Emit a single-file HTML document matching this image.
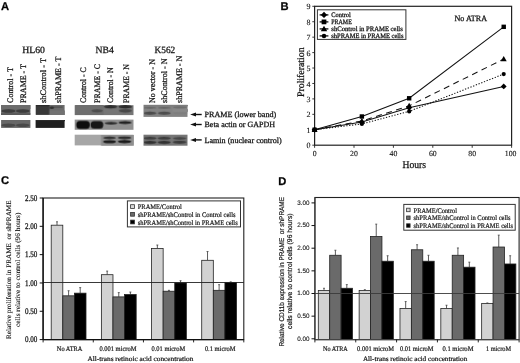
<!DOCTYPE html>
<html><head><meta charset="utf-8"><style>
html,body{margin:0;padding:0;background:#fff;width:520px;height:363px;overflow:hidden;font-family:"Liberation Serif",serif;}
svg{display:block;will-change:transform;filter:blur(0.3px)}
text{stroke:#1a1a1a;stroke-width:0.28px;text-rendering:geometricPrecision;white-space:pre}
text.s{stroke-width:0.12px}
text.m{stroke-width:0.2px}
</style></head><body>
<svg width="520" height="363" viewBox="0 0 520 363">
<rect width="520" height="363" fill="#fff"/>
<text x="0.90" y="9.50" font-size="11.2" font-family='"Liberation Sans", sans-serif' fill="#000" font-weight="bold" >A</text>
<text x="280.40" y="9.80" font-size="11.2" font-family='"Liberation Sans", sans-serif' fill="#000" font-weight="bold" >B</text>
<text x="1.00" y="183.60" font-size="11.2" font-family='"Liberation Sans", sans-serif' fill="#000" font-weight="bold" >C</text>
<text x="278.20" y="184.60" font-size="11.2" font-family='"Liberation Sans", sans-serif' fill="#000" font-weight="bold" >D</text>
<text x="22.30" y="52.90" font-size="9.6" font-family='"Liberation Serif", serif' fill="#111" textLength="22.60" lengthAdjust="spacingAndGlyphs" >HL60</text>
<text x="95.60" y="52.90" font-size="9.6" font-family='"Liberation Serif", serif' fill="#111" textLength="18.20" lengthAdjust="spacingAndGlyphs" >NB4</text>
<text x="154.50" y="52.90" font-size="9.6" font-family='"Liberation Serif", serif' fill="#111" textLength="20.70" lengthAdjust="spacingAndGlyphs" >K562</text>
<text x="12.60" y="102.90" font-size="8.4" font-family='"Liberation Serif", serif' fill="#111" textLength="35.70" lengthAdjust="spacingAndGlyphs" transform="rotate(-90 12.60 102.90)" >Control - T</text>
<text x="26.40" y="102.90" font-size="8.4" font-family='"Liberation Serif", serif' fill="#111" textLength="38.90" lengthAdjust="spacingAndGlyphs" transform="rotate(-90 26.40 102.90)" >PRAME - T</text>
<text x="45.60" y="102.90" font-size="8.4" font-family='"Liberation Serif", serif' fill="#111" textLength="44.90" lengthAdjust="spacingAndGlyphs" transform="rotate(-90 45.60 102.90)" >shControl - T</text>
<text x="61.00" y="102.90" font-size="8.4" font-family='"Liberation Serif", serif' fill="#111" textLength="46.40" lengthAdjust="spacingAndGlyphs" transform="rotate(-90 61.00 102.90)" >shPRAME - T</text>
<text x="85.90" y="102.90" font-size="8.4" font-family='"Liberation Serif", serif' fill="#111" textLength="35.60" lengthAdjust="spacingAndGlyphs" transform="rotate(-90 85.90 102.90)" >Control - C</text>
<text x="99.80" y="102.90" font-size="8.4" font-family='"Liberation Serif", serif' fill="#111" textLength="38.90" lengthAdjust="spacingAndGlyphs" transform="rotate(-90 99.80 102.90)" >PRAME - C</text>
<text x="113.50" y="102.90" font-size="8.4" font-family='"Liberation Serif", serif' fill="#111" textLength="35.60" lengthAdjust="spacingAndGlyphs" transform="rotate(-90 113.50 102.90)" >Control - N</text>
<text x="128.60" y="102.90" font-size="8.4" font-family='"Liberation Serif", serif' fill="#111" textLength="38.90" lengthAdjust="spacingAndGlyphs" transform="rotate(-90 128.60 102.90)" >PRAME - N</text>
<text x="154.60" y="102.90" font-size="8.4" font-family='"Liberation Serif", serif' fill="#111" textLength="43.90" lengthAdjust="spacingAndGlyphs" transform="rotate(-90 154.60 102.90)" >No vector - N</text>
<text x="167.40" y="102.90" font-size="8.4" font-family='"Liberation Serif", serif' fill="#111" textLength="44.40" lengthAdjust="spacingAndGlyphs" transform="rotate(-90 167.40 102.90)" >shControl - N</text>
<text x="182.20" y="102.90" font-size="8.4" font-family='"Liberation Serif", serif' fill="#111" textLength="47.20" lengthAdjust="spacingAndGlyphs" transform="rotate(-90 182.20 102.90)" >shPRAME - N</text>
<defs><filter id="bl" x="-20%" y="-50%" width="140%" height="200%"><feGaussianBlur stdDeviation="0.75"/></filter><filter id="bl2" x="-20%" y="-50%" width="140%" height="200%"><feGaussianBlur stdDeviation="1.0"/></filter><clipPath id="c1"><rect x="1" y="104.8" width="29.5" height="9.9"/></clipPath></defs>
<rect x="1.1" y="105.0" width="29.3" height="9.6" fill="#666666"/>
<svg x="1.1" y="105.0" width="29.3" height="9.6" overflow="hidden"><g transform="translate(-1.1 -105.0)" filter="url(#bl)">
<rect x="1.1" y="105" width="29.3" height="4.0" fill="#6c6c6c"/>
<ellipse cx="8.5" cy="111.0" rx="7.0" ry="1.8" fill="#3c3c3c"/>
<ellipse cx="22.8" cy="111.0" rx="6.8" ry="1.8" fill="#3e3e3e"/>
<rect x="1.1" y="113.2" width="29.3" height="2" fill="#5a5a5a"/>
</g></svg>
<rect x="1.1" y="120.0" width="29.3" height="7.9" fill="#676767"/>
<svg x="1.1" y="120.0" width="29.3" height="7.9" overflow="hidden"><g transform="translate(-1.1 -120.0)" filter="url(#bl)">
<ellipse cx="8.5" cy="125.3" rx="7.0" ry="1.7" fill="#4a4a4a"/>
<ellipse cx="22.8" cy="125.3" rx="6.8" ry="1.7" fill="#4a4a4a"/>
</g></svg>
<rect x="35.6" y="105.0" width="29.0" height="9.8" fill="#6c6c6c"/>
<svg x="35.6" y="105.0" width="29.0" height="9.8" overflow="hidden"><g transform="translate(-35.6 -105.0)" filter="url(#bl)">
<rect x="35.6" y="105" width="13.8" height="9.8" fill="#383838"/>
<rect x="35.6" y="105" width="13.8" height="1.2" fill="#2c2c2c"/>
<rect x="50" y="106.3" width="12.5" height="1.8" fill="#585858"/>
<ellipse cx="51.8" cy="107.8" rx="2.2" ry="1.3" fill="#333333"/>
<rect x="49.4" y="110.5" width="15" height="4.5" fill="#727272"/>
</g></svg>
<rect x="35.6" y="120.0" width="29.0" height="7.9" fill="#1f1f1f"/>
<svg x="35.6" y="120.0" width="29.0" height="7.9" overflow="hidden"><g transform="translate(-35.6 -120.0)" filter="url(#bl)">
<rect x="35.6" y="120" width="29" height="1.2" fill="#2c2c2c"/>
</g></svg>
<rect x="74.7" y="105.2" width="58.8" height="9.9" fill="#767676"/>
<svg x="74.7" y="105.2" width="58.8" height="9.9" overflow="hidden"><g transform="translate(-74.7 -105.2)" filter="url(#bl)">
<rect x="75" y="105.2" width="28.5" height="9.9" fill="#6e6e6e"/>
<ellipse cx="97" cy="110.8" rx="5.8" ry="1.6" fill="#4e4e4e"/>
<ellipse cx="110.5" cy="106.8" rx="6.8" ry="1.6" fill="#2e2e2e"/>
<ellipse cx="125.3" cy="106.8" rx="6.8" ry="1.7" fill="#2a2a2a"/>
<ellipse cx="125.3" cy="110.8" rx="6.5" ry="1.8" fill="#484848"/>
</g></svg>
<rect x="74.7" y="119.6" width="58.8" height="10.2" fill="#909090"/>
<svg x="74.7" y="119.6" width="58.8" height="10.2" overflow="hidden"><g transform="translate(-74.7 -119.6)" filter="url(#bl)">
<rect x="76.3" y="120.9" width="13.4" height="8.0" rx="3.5" fill="#111111"/>
<rect x="90.6" y="121.1" width="12.6" height="7.5" rx="3.5" fill="#141414"/>
<ellipse cx="111" cy="123.2" rx="6.5" ry="1.3" fill="#2a2a2a"/>
<ellipse cx="125" cy="122.6" rx="6.6" ry="1.5" fill="#222222"/>
</g></svg>
<rect x="74.7" y="134.7" width="58.8" height="10.7" fill="#a6a6a6"/>
<svg x="74.7" y="134.7" width="58.8" height="10.7" overflow="hidden"><g transform="translate(-74.7 -134.7)" filter="url(#bl)">
<rect x="101" y="134.7" width="32.5" height="10.7" fill="#8e8e8e"/>
<ellipse cx="109.5" cy="137.8" rx="6.5" ry="1.3" fill="#333333"/>
<ellipse cx="109.5" cy="141.7" rx="6.5" ry="1.6" fill="#1e1e1e"/>
<ellipse cx="124.5" cy="137.8" rx="6.8" ry="1.4" fill="#2e2e2e"/>
<ellipse cx="124.5" cy="141.5" rx="6.8" ry="1.6" fill="#1a1a1a"/>
</g></svg>
<rect x="143.5" y="104.8" width="44.0" height="12.1" fill="#838383"/>
<svg x="143.5" y="104.8" width="44.0" height="12.1" overflow="hidden"><g transform="translate(-143.5 -104.8)" filter="url(#bl)">
<rect x="143.5" y="104.8" width="44" height="1.4" fill="#7c7c7c"/>
<ellipse cx="150" cy="107.7" rx="6.4" ry="1.0" fill="#666666"/>
<ellipse cx="164.3" cy="107.7" rx="6.4" ry="1.0" fill="#666666"/>
<ellipse cx="180" cy="107.3" rx="6.8" ry="1.0" fill="#6c6c6c"/>
<ellipse cx="150" cy="113.2" rx="6.4" ry="1.6" fill="#4c4c4c"/>
<ellipse cx="164.3" cy="113.2" rx="6.4" ry="1.6" fill="#4e4e4e"/>
<ellipse cx="180" cy="113.0" rx="6.8" ry="1.3" fill="#7e7e7e"/>
<rect x="172.3" y="109" width="15.2" height="3" fill="#888888"/>
</g></svg>
<rect x="143.5" y="134.7" width="44.0" height="11.0" fill="#767676"/>
<svg x="143.5" y="134.7" width="44.0" height="11.0" overflow="hidden"><g transform="translate(-143.5 -134.7)" filter="url(#bl)">
<ellipse cx="150" cy="138.1" rx="6.6" ry="1.4" fill="#3c3c3c"/>
<ellipse cx="164.2" cy="138.1" rx="6.6" ry="1.4" fill="#3a3a3a"/>
<ellipse cx="179.6" cy="138.3" rx="6.8" ry="1.3" fill="#444444"/>
<ellipse cx="150" cy="142.3" rx="6.6" ry="1.6" fill="#333333"/>
<ellipse cx="164.2" cy="142.3" rx="6.6" ry="1.6" fill="#333333"/>
<ellipse cx="179.6" cy="142.1" rx="6.8" ry="1.5" fill="#3a3a3a"/>
</g></svg>
<path d="M190.2 114.5 L196.0 112.5 L196.0 116.5 Z" fill="#111"/>
<line x1="195" y1="114.5" x2="201.7" y2="114.5" stroke="#111" stroke-width="1.4"/>
<text x="204.50" y="116.80" font-size="8" font-family='"Liberation Serif", serif' fill="#111" textLength="71.80" lengthAdjust="spacingAndGlyphs" >PRAME (lower band)</text>
<path d="M190.2 124.5 L196.0 122.5 L196.0 126.5 Z" fill="#111"/>
<line x1="195" y1="124.5" x2="201.7" y2="124.5" stroke="#111" stroke-width="1.4"/>
<text x="204.50" y="127.20" font-size="8" font-family='"Liberation Serif", serif' fill="#111" textLength="70.50" lengthAdjust="spacingAndGlyphs" >Beta actin or GAPDH</text>
<path d="M190.2 139.9 L196.0 137.9 L196.0 141.9 Z" fill="#111"/>
<line x1="195" y1="139.9" x2="201.7" y2="139.9" stroke="#111" stroke-width="1.4"/>
<text x="204.50" y="142.60" font-size="8" font-family='"Liberation Serif", serif' fill="#111" textLength="77.30" lengthAdjust="spacingAndGlyphs" >Lamin (nuclear control)</text>
<rect x="314.6" y="6.3" width="197.0" height="138.89999999999998" fill="none" stroke="#222" stroke-width="1.2"/>
<line x1="312.3" y1="145.20" x2="314.6" y2="145.20" stroke="#222" stroke-width="0.9"/>
<text x="310.40" y="148.30" font-size="8" font-family='"Liberation Serif", serif' fill="#111" text-anchor="end" class="s" >0</text>
<line x1="312.3" y1="129.77" x2="314.6" y2="129.77" stroke="#222" stroke-width="0.9"/>
<text x="310.40" y="132.87" font-size="8" font-family='"Liberation Serif", serif' fill="#111" text-anchor="end" class="s" >1</text>
<line x1="312.3" y1="114.33" x2="314.6" y2="114.33" stroke="#222" stroke-width="0.9"/>
<text x="310.40" y="117.43" font-size="8" font-family='"Liberation Serif", serif' fill="#111" text-anchor="end" class="s" >2</text>
<line x1="312.3" y1="98.90" x2="314.6" y2="98.90" stroke="#222" stroke-width="0.9"/>
<text x="310.40" y="102.00" font-size="8" font-family='"Liberation Serif", serif' fill="#111" text-anchor="end" class="s" >3</text>
<line x1="312.3" y1="83.47" x2="314.6" y2="83.47" stroke="#222" stroke-width="0.9"/>
<text x="310.40" y="86.57" font-size="8" font-family='"Liberation Serif", serif' fill="#111" text-anchor="end" class="s" >4</text>
<line x1="312.3" y1="68.03" x2="314.6" y2="68.03" stroke="#222" stroke-width="0.9"/>
<text x="310.40" y="71.13" font-size="8" font-family='"Liberation Serif", serif' fill="#111" text-anchor="end" class="s" >5</text>
<line x1="312.3" y1="52.60" x2="314.6" y2="52.60" stroke="#222" stroke-width="0.9"/>
<text x="310.40" y="55.70" font-size="8" font-family='"Liberation Serif", serif' fill="#111" text-anchor="end" class="s" >6</text>
<line x1="312.3" y1="37.17" x2="314.6" y2="37.17" stroke="#222" stroke-width="0.9"/>
<text x="310.40" y="40.27" font-size="8" font-family='"Liberation Serif", serif' fill="#111" text-anchor="end" class="s" >7</text>
<line x1="312.3" y1="21.73" x2="314.6" y2="21.73" stroke="#222" stroke-width="0.9"/>
<text x="310.40" y="24.83" font-size="8" font-family='"Liberation Serif", serif' fill="#111" text-anchor="end" class="s" >8</text>
<line x1="312.3" y1="6.30" x2="314.6" y2="6.30" stroke="#222" stroke-width="0.9"/>
<text x="310.40" y="9.40" font-size="8" font-family='"Liberation Serif", serif' fill="#111" text-anchor="end" class="s" >9</text>
<line x1="314.60" y1="145.2" x2="314.60" y2="147.8" stroke="#222" stroke-width="0.9"/>
<text x="314.60" y="156.20" font-size="7.8" font-family='"Liberation Serif", serif' fill="#111" text-anchor="middle" class="s" >0</text>
<line x1="354.00" y1="145.2" x2="354.00" y2="147.8" stroke="#222" stroke-width="0.9"/>
<text x="354.00" y="156.20" font-size="7.8" font-family='"Liberation Serif", serif' fill="#111" text-anchor="middle" class="s" >20</text>
<line x1="393.40" y1="145.2" x2="393.40" y2="147.8" stroke="#222" stroke-width="0.9"/>
<text x="393.40" y="156.20" font-size="7.8" font-family='"Liberation Serif", serif' fill="#111" text-anchor="middle" class="s" >40</text>
<line x1="432.80" y1="145.2" x2="432.80" y2="147.8" stroke="#222" stroke-width="0.9"/>
<text x="432.80" y="156.20" font-size="7.8" font-family='"Liberation Serif", serif' fill="#111" text-anchor="middle" class="s" >60</text>
<line x1="472.20" y1="145.2" x2="472.20" y2="147.8" stroke="#222" stroke-width="0.9"/>
<text x="472.20" y="156.20" font-size="7.8" font-family='"Liberation Serif", serif' fill="#111" text-anchor="middle" class="s" >80</text>
<line x1="511.60" y1="145.2" x2="511.60" y2="147.8" stroke="#222" stroke-width="0.9"/>
<text x="510.60" y="156.20" font-size="7.8" font-family='"Liberation Serif", serif' fill="#111" text-anchor="middle" class="s" >100</text>
<text x="303.50" y="97.00" font-size="10" font-family='"Liberation Serif", serif' fill="#111" textLength="49.60" lengthAdjust="spacingAndGlyphs" transform="rotate(-90 303.50 97.00)" >Proliferation</text>
<text x="402.50" y="168.00" font-size="10.5" font-family='"Liberation Serif", serif' fill="#111" textLength="23.50" lengthAdjust="spacingAndGlyphs" >Hours</text>
<text x="454.50" y="20.60" font-size="8.2" font-family='"Liberation Serif", serif' fill="#111" textLength="32.50" lengthAdjust="spacingAndGlyphs" >No ATRA</text>
<polyline points="314.60,129.77 361.88,122.05 409.16,107.85 503.72,86.40" fill="none" stroke="#111" stroke-width="1.05"/>
<polyline points="314.60,129.77 361.88,116.49 409.16,98.28 503.72,26.83" fill="none" stroke="#111" stroke-width="1.05"/>
<polyline points="314.60,129.77 361.88,120.97 409.16,105.84 503.72,59.08" fill="none" stroke="#111" stroke-width="1.05" stroke-dasharray="6,4.5"/>
<polyline points="314.60,129.77 361.88,123.90 409.16,111.40 503.72,74.05" fill="none" stroke="#111" stroke-width="1.05" stroke-dasharray="1.3,1.6"/>
<path d="M314.60 126.87 L317.50 129.77 L314.60 132.67 L311.70 129.77 Z" fill="#000"/>
<path d="M361.88 119.15 L364.78 122.05 L361.88 124.95 L358.98 122.05 Z" fill="#000"/>
<path d="M409.16 104.95 L412.06 107.85 L409.16 110.75 L406.26 107.85 Z" fill="#000"/>
<path d="M503.72 83.50 L506.62 86.40 L503.72 89.30 L500.82 86.40 Z" fill="#000"/>
<rect x="312.40" y="127.57" width="4.40" height="4.40" fill="#000"/>
<rect x="359.68" y="114.29" width="4.40" height="4.40" fill="#000"/>
<rect x="406.96" y="96.08" width="4.40" height="4.40" fill="#000"/>
<rect x="501.52" y="24.63" width="4.40" height="4.40" fill="#000"/>
<path d="M314.60 126.77 L317.60 132.02 L311.60 132.02 Z" fill="#000"/>
<path d="M361.88 117.97 L364.88 123.22 L358.88 123.22 Z" fill="#000"/>
<path d="M409.16 102.84 L412.16 108.09 L406.16 108.09 Z" fill="#000"/>
<path d="M503.72 56.08 L506.72 61.33 L500.72 61.33 Z" fill="#000"/>
<circle cx="314.60" cy="129.77" r="2.10" fill="#000"/>
<circle cx="361.88" cy="123.90" r="2.10" fill="#000"/>
<circle cx="409.16" cy="111.40" r="2.10" fill="#000"/>
<circle cx="503.72" cy="74.05" r="2.10" fill="#000"/>
<rect x="317.4" y="9.8" width="88.5" height="29.6" fill="#fff" stroke="#333" stroke-width="1"/>
<line x1="319.6" y1="14.90" x2="328.4" y2="14.90" stroke="#111" stroke-width="1.3"/>
<path d="M324.00 11.77 L327.13 14.90 L324.00 18.03 L320.87 14.90 Z" fill="#000"/>
<text x="331.30" y="17.00" font-size="6.8" font-family='"Liberation Serif", serif' fill="#111" textLength="19.50" lengthAdjust="spacingAndGlyphs" >Control</text>
<line x1="319.6" y1="21.90" x2="328.4" y2="21.90" stroke="#111" stroke-width="1.3"/>
<rect x="321.62" y="19.52" width="4.75" height="4.75" fill="#000"/>
<text x="331.30" y="24.00" font-size="6.8" font-family='"Liberation Serif", serif' fill="#111" textLength="20.50" lengthAdjust="spacingAndGlyphs" >PRAME</text>
<line x1="319.6" y1="28.90" x2="328.4" y2="28.90" stroke="#111" stroke-width="1.3"/>
<path d="M324.00 25.66 L327.24 31.33 L320.76 31.33 Z" fill="#000"/>
<text x="331.30" y="31.00" font-size="6.8" font-family='"Liberation Serif", serif' fill="#111" textLength="71.50" lengthAdjust="spacingAndGlyphs" >shControl in PRAME cells</text>
<line x1="319.6" y1="35.90" x2="328.4" y2="35.90" stroke="#111" stroke-width="1.3"/>
<circle cx="324.00" cy="35.90" r="2.27" fill="#000"/>
<text x="331.30" y="38.00" font-size="6.8" font-family='"Liberation Serif", serif' fill="#111" textLength="72.10" lengthAdjust="spacingAndGlyphs" >shPRAME in PRAME cells</text>
<rect x="43.1" y="198.0" width="200.70000000000002" height="141.60000000000002" fill="#fff" stroke="#222" stroke-width="1.1"/>
<line x1="57.00" y1="221.79" x2="57.00" y2="225.19" stroke="#333" stroke-width="0.8"/>
<line x1="56.00" y1="221.79" x2="58.00" y2="221.79" stroke="#333" stroke-width="0.7"/>
<rect x="51.20" y="225.19" width="11.60" height="114.41" fill="#d2d2d2" stroke="#222" stroke-width="0.8"/>
<line x1="68.60" y1="290.72" x2="68.60" y2="295.82" stroke="#333" stroke-width="0.8"/>
<line x1="67.60" y1="290.72" x2="69.60" y2="290.72" stroke="#333" stroke-width="0.7"/>
<rect x="62.80" y="295.82" width="11.60" height="43.78" fill="#6a6a6a" stroke="#222" stroke-width="0.8"/>
<line x1="80.20" y1="287.60" x2="80.20" y2="293.16" stroke="#333" stroke-width="0.8"/>
<line x1="79.20" y1="287.60" x2="81.20" y2="287.60" stroke="#333" stroke-width="0.7"/>
<rect x="74.40" y="293.16" width="11.60" height="46.44" fill="#000000" stroke="#222" stroke-width="0.8"/>
<line x1="107.17" y1="271.07" x2="107.17" y2="274.69" stroke="#333" stroke-width="0.8"/>
<line x1="106.17" y1="271.07" x2="108.17" y2="271.07" stroke="#333" stroke-width="0.7"/>
<rect x="101.38" y="274.69" width="11.60" height="64.91" fill="#d2d2d2" stroke="#222" stroke-width="0.8"/>
<line x1="118.77" y1="292.59" x2="118.77" y2="296.89" stroke="#333" stroke-width="0.8"/>
<line x1="117.77" y1="292.59" x2="119.77" y2="292.59" stroke="#333" stroke-width="0.7"/>
<rect x="112.97" y="296.89" width="11.60" height="42.71" fill="#6a6a6a" stroke="#222" stroke-width="0.8"/>
<line x1="130.38" y1="292.02" x2="130.38" y2="294.57" stroke="#333" stroke-width="0.8"/>
<line x1="129.38" y1="292.02" x2="131.38" y2="292.02" stroke="#333" stroke-width="0.7"/>
<rect x="124.58" y="294.57" width="11.60" height="45.03" fill="#000000" stroke="#222" stroke-width="0.8"/>
<line x1="157.35" y1="245.01" x2="157.35" y2="248.41" stroke="#333" stroke-width="0.8"/>
<line x1="156.35" y1="245.01" x2="158.35" y2="245.01" stroke="#333" stroke-width="0.7"/>
<rect x="151.55" y="248.41" width="11.60" height="91.19" fill="#d2d2d2" stroke="#222" stroke-width="0.8"/>
<line x1="168.95" y1="290.32" x2="168.95" y2="291.23" stroke="#333" stroke-width="0.8"/>
<line x1="167.95" y1="290.32" x2="169.95" y2="290.32" stroke="#333" stroke-width="0.7"/>
<rect x="163.15" y="291.23" width="11.60" height="48.37" fill="#6a6a6a" stroke="#222" stroke-width="0.8"/>
<line x1="180.55" y1="280.69" x2="180.55" y2="282.96" stroke="#333" stroke-width="0.8"/>
<line x1="179.55" y1="280.69" x2="181.55" y2="280.69" stroke="#333" stroke-width="0.7"/>
<rect x="174.75" y="282.96" width="11.60" height="56.64" fill="#000000" stroke="#222" stroke-width="0.8"/>
<line x1="207.53" y1="251.52" x2="207.53" y2="260.30" stroke="#333" stroke-width="0.8"/>
<line x1="206.53" y1="251.52" x2="208.53" y2="251.52" stroke="#333" stroke-width="0.7"/>
<rect x="201.72" y="260.30" width="11.60" height="79.30" fill="#d2d2d2" stroke="#222" stroke-width="0.8"/>
<line x1="219.12" y1="284.66" x2="219.12" y2="290.32" stroke="#333" stroke-width="0.8"/>
<line x1="218.12" y1="284.66" x2="220.12" y2="284.66" stroke="#333" stroke-width="0.7"/>
<rect x="213.32" y="290.32" width="11.60" height="49.28" fill="#6a6a6a" stroke="#222" stroke-width="0.8"/>
<line x1="230.72" y1="281.83" x2="230.72" y2="282.39" stroke="#333" stroke-width="0.8"/>
<line x1="229.72" y1="281.83" x2="231.72" y2="281.83" stroke="#333" stroke-width="0.7"/>
<rect x="224.92" y="282.39" width="11.60" height="57.21" fill="#000000" stroke="#222" stroke-width="0.8"/>
<line x1="43.1" y1="282.50" x2="243.8" y2="282.50" stroke="#222" stroke-width="0.9"/>
<line x1="43.1" y1="198.0" x2="43.1" y2="339.6" stroke="#111" stroke-width="1.3"/>
<line x1="43.1" y1="339.6" x2="243.8" y2="339.6" stroke="#111" stroke-width="1.3"/>
<line x1="43.10" y1="339.6" x2="43.10" y2="342.40" stroke="#111" stroke-width="0.9"/>
<line x1="93.28" y1="339.6" x2="93.28" y2="342.40" stroke="#111" stroke-width="0.9"/>
<line x1="143.45" y1="339.6" x2="143.45" y2="342.40" stroke="#111" stroke-width="0.9"/>
<line x1="193.62" y1="339.6" x2="193.62" y2="342.40" stroke="#111" stroke-width="0.9"/>
<line x1="243.80" y1="339.6" x2="243.80" y2="342.40" stroke="#111" stroke-width="0.9"/>
<line x1="39.70" y1="339.60" x2="43.1" y2="339.60" stroke="#111" stroke-width="1"/>
<text x="24.90" y="342.45" font-size="8.6" font-family='"Liberation Serif", serif' fill="#111" textLength="12.40" lengthAdjust="spacingAndGlyphs" >0.00</text>
<line x1="39.70" y1="311.28" x2="43.1" y2="311.28" stroke="#111" stroke-width="1"/>
<text x="24.90" y="314.13" font-size="8.6" font-family='"Liberation Serif", serif' fill="#111" textLength="12.40" lengthAdjust="spacingAndGlyphs" >0.50</text>
<line x1="39.70" y1="282.96" x2="43.1" y2="282.96" stroke="#111" stroke-width="1"/>
<text x="24.90" y="285.81" font-size="8.6" font-family='"Liberation Serif", serif' fill="#111" textLength="12.40" lengthAdjust="spacingAndGlyphs" >1.00</text>
<line x1="39.70" y1="254.64" x2="43.1" y2="254.64" stroke="#111" stroke-width="1"/>
<text x="24.90" y="257.49" font-size="8.6" font-family='"Liberation Serif", serif' fill="#111" textLength="12.40" lengthAdjust="spacingAndGlyphs" >1.50</text>
<line x1="39.70" y1="226.32" x2="43.1" y2="226.32" stroke="#111" stroke-width="1"/>
<text x="24.90" y="229.17" font-size="8.6" font-family='"Liberation Serif", serif' fill="#111" textLength="12.40" lengthAdjust="spacingAndGlyphs" >2.00</text>
<line x1="39.70" y1="198.00" x2="43.1" y2="198.00" stroke="#111" stroke-width="1"/>
<text x="24.90" y="200.85" font-size="8.6" font-family='"Liberation Serif", serif' fill="#111" textLength="12.40" lengthAdjust="spacingAndGlyphs" >2.50</text>
<text x="56.80" y="351.40" font-size="7.0" font-family='"Liberation Serif", serif' fill="#111" textLength="25.60" lengthAdjust="spacingAndGlyphs" class="m" >No ATRA</text>
<text x="99.40" y="351.40" font-size="7.0" font-family='"Liberation Serif", serif' fill="#111" textLength="37.10" lengthAdjust="spacingAndGlyphs" class="m" >0.001 microM</text>
<text x="151.50" y="351.40" font-size="7.0" font-family='"Liberation Serif", serif' fill="#111" textLength="33.70" lengthAdjust="spacingAndGlyphs" class="m" >0.01 microM</text>
<text x="204.90" y="351.40" font-size="7.0" font-family='"Liberation Serif", serif' fill="#111" textLength="30.50" lengthAdjust="spacingAndGlyphs" class="m" >0.1 microM</text>
<text x="87.50" y="361.00" font-size="6.9" font-family='"Liberation Serif", serif' fill="#111" textLength="105.80" lengthAdjust="spacingAndGlyphs" class="m" >All-trans retinoic acid concentration</text>
<text x="10.80" y="339.00" font-size="7" font-family='"Liberation Serif", serif' fill="#111" textLength="138.70" lengthAdjust="spacingAndGlyphs" transform="rotate(-90 10.80 339.00)" class="s" >Relative proliferation in PRAME  or shPRAME</text>
<text x="20.00" y="326.90" font-size="7" font-family='"Liberation Serif", serif' fill="#111" textLength="114.30" lengthAdjust="spacingAndGlyphs" transform="rotate(-90 20.00 326.90)" class="s" >cells relative to control cells (96 hours)</text>
<rect x="127.4" y="200.9" width="113.1" height="26.0" fill="#fff" stroke="#333" stroke-width="1"/>
<rect x="130.6" y="204.70" width="3.8" height="3.8" fill="#d8d8d8" stroke="#333" stroke-width="0.8"/>
<text x="137.70" y="209.20" font-size="7.0" font-family='"Liberation Serif", serif' fill="#111" textLength="44.00" lengthAdjust="spacingAndGlyphs" class="m" >PRAME/Control</text>
<rect x="130.6" y="212.40" width="3.8" height="3.8" fill="#6a6a6a" stroke="#333" stroke-width="0.8"/>
<text x="137.70" y="216.90" font-size="7.0" font-family='"Liberation Serif", serif' fill="#111" textLength="97.80" lengthAdjust="spacingAndGlyphs" class="m" >shPRAME/shControl in Control cells</text>
<rect x="130.6" y="220.10" width="3.8" height="3.8" fill="#000" stroke="#333" stroke-width="0.8"/>
<text x="137.70" y="224.60" font-size="7.0" font-family='"Liberation Serif", serif' fill="#111" textLength="100.00" lengthAdjust="spacingAndGlyphs" class="m" >shPRAME/shControl in PRAME cells</text>
<rect x="314.9" y="197.5" width="204.20000000000005" height="142.10000000000002" fill="#fff" stroke="#222" stroke-width="1.1"/>
<line x1="324.00" y1="288.27" x2="324.00" y2="290.56" stroke="#333" stroke-width="0.8"/>
<line x1="323.00" y1="288.27" x2="325.00" y2="288.27" stroke="#333" stroke-width="0.7"/>
<rect x="318.30" y="290.56" width="11.40" height="49.04" fill="#d2d2d2" stroke="#222" stroke-width="0.8"/>
<line x1="335.40" y1="250.23" x2="335.40" y2="255.27" stroke="#333" stroke-width="0.8"/>
<line x1="334.40" y1="250.23" x2="336.40" y2="250.23" stroke="#333" stroke-width="0.7"/>
<rect x="329.70" y="255.27" width="11.40" height="84.33" fill="#6a6a6a" stroke="#222" stroke-width="0.8"/>
<line x1="346.80" y1="284.60" x2="346.80" y2="288.27" stroke="#333" stroke-width="0.8"/>
<line x1="345.80" y1="284.60" x2="347.80" y2="284.60" stroke="#333" stroke-width="0.7"/>
<rect x="341.10" y="288.27" width="11.40" height="51.33" fill="#000000" stroke="#222" stroke-width="0.8"/>
<line x1="364.84" y1="289.65" x2="364.84" y2="290.56" stroke="#333" stroke-width="0.8"/>
<line x1="363.84" y1="289.65" x2="365.84" y2="289.65" stroke="#333" stroke-width="0.7"/>
<rect x="359.14" y="290.56" width="11.40" height="49.04" fill="#d2d2d2" stroke="#222" stroke-width="0.8"/>
<line x1="376.24" y1="224.11" x2="376.24" y2="236.48" stroke="#333" stroke-width="0.8"/>
<line x1="375.24" y1="224.11" x2="377.24" y2="224.11" stroke="#333" stroke-width="0.7"/>
<rect x="370.54" y="236.48" width="11.40" height="103.12" fill="#6a6a6a" stroke="#222" stroke-width="0.8"/>
<line x1="387.64" y1="255.73" x2="387.64" y2="261.23" stroke="#333" stroke-width="0.8"/>
<line x1="386.64" y1="255.73" x2="388.64" y2="255.73" stroke="#333" stroke-width="0.7"/>
<rect x="381.94" y="261.23" width="11.40" height="78.37" fill="#000000" stroke="#222" stroke-width="0.8"/>
<line x1="405.68" y1="301.56" x2="405.68" y2="308.44" stroke="#333" stroke-width="0.8"/>
<line x1="404.68" y1="301.56" x2="406.68" y2="301.56" stroke="#333" stroke-width="0.7"/>
<rect x="399.98" y="308.44" width="11.40" height="31.16" fill="#d2d2d2" stroke="#222" stroke-width="0.8"/>
<line x1="417.08" y1="244.73" x2="417.08" y2="249.77" stroke="#333" stroke-width="0.8"/>
<line x1="416.08" y1="244.73" x2="418.08" y2="244.73" stroke="#333" stroke-width="0.7"/>
<rect x="411.38" y="249.77" width="11.40" height="89.83" fill="#6a6a6a" stroke="#222" stroke-width="0.8"/>
<line x1="428.48" y1="255.27" x2="428.48" y2="261.23" stroke="#333" stroke-width="0.8"/>
<line x1="427.48" y1="255.27" x2="429.48" y2="255.27" stroke="#333" stroke-width="0.7"/>
<rect x="422.78" y="261.23" width="11.40" height="78.37" fill="#000000" stroke="#222" stroke-width="0.8"/>
<line x1="446.52" y1="305.23" x2="446.52" y2="308.44" stroke="#333" stroke-width="0.8"/>
<line x1="445.52" y1="305.23" x2="447.52" y2="305.23" stroke="#333" stroke-width="0.7"/>
<rect x="440.82" y="308.44" width="11.40" height="31.16" fill="#d2d2d2" stroke="#222" stroke-width="0.8"/>
<line x1="457.92" y1="247.94" x2="457.92" y2="255.27" stroke="#333" stroke-width="0.8"/>
<line x1="456.92" y1="247.94" x2="458.92" y2="247.94" stroke="#333" stroke-width="0.7"/>
<rect x="452.22" y="255.27" width="11.40" height="84.33" fill="#6a6a6a" stroke="#222" stroke-width="0.8"/>
<line x1="469.32" y1="262.15" x2="469.32" y2="267.19" stroke="#333" stroke-width="0.8"/>
<line x1="468.32" y1="262.15" x2="470.32" y2="262.15" stroke="#333" stroke-width="0.7"/>
<rect x="463.62" y="267.19" width="11.40" height="72.41" fill="#000000" stroke="#222" stroke-width="0.8"/>
<line x1="487.36" y1="302.94" x2="487.36" y2="303.39" stroke="#333" stroke-width="0.8"/>
<line x1="486.36" y1="302.94" x2="488.36" y2="302.94" stroke="#333" stroke-width="0.7"/>
<rect x="481.66" y="303.39" width="11.40" height="36.21" fill="#d2d2d2" stroke="#222" stroke-width="0.8"/>
<line x1="498.76" y1="235.11" x2="498.76" y2="247.02" stroke="#333" stroke-width="0.8"/>
<line x1="497.76" y1="235.11" x2="499.76" y2="235.11" stroke="#333" stroke-width="0.7"/>
<rect x="493.06" y="247.02" width="11.40" height="92.58" fill="#6a6a6a" stroke="#222" stroke-width="0.8"/>
<line x1="510.16" y1="255.73" x2="510.16" y2="263.98" stroke="#333" stroke-width="0.8"/>
<line x1="509.16" y1="255.73" x2="511.16" y2="255.73" stroke="#333" stroke-width="0.7"/>
<rect x="504.46" y="263.98" width="11.40" height="75.62" fill="#000000" stroke="#222" stroke-width="0.8"/>
<line x1="314.9" y1="293.50" x2="519.1" y2="293.50" stroke="#3a3a3a" stroke-width="0.9"/>
<line x1="314.9" y1="197.5" x2="314.9" y2="339.6" stroke="#444" stroke-width="1.25"/>
<line x1="314.9" y1="339.6" x2="519.1" y2="339.6" stroke="#444" stroke-width="1.25"/>
<line x1="314.90" y1="339.6" x2="314.90" y2="342.40" stroke="#111" stroke-width="0.9"/>
<line x1="355.74" y1="339.6" x2="355.74" y2="342.40" stroke="#111" stroke-width="0.9"/>
<line x1="396.58" y1="339.6" x2="396.58" y2="342.40" stroke="#111" stroke-width="0.9"/>
<line x1="437.42" y1="339.6" x2="437.42" y2="342.40" stroke="#111" stroke-width="0.9"/>
<line x1="478.26" y1="339.6" x2="478.26" y2="342.40" stroke="#111" stroke-width="0.9"/>
<line x1="519.10" y1="339.6" x2="519.10" y2="342.40" stroke="#111" stroke-width="0.9"/>
<line x1="311.50" y1="338.80" x2="314.9" y2="338.80" stroke="#111" stroke-width="1"/>
<text x="309.40" y="340.55" font-size="6.3" font-family='"Liberation Sans", sans-serif' fill="#111" text-anchor="end" class="s" >0.00</text>
<line x1="311.50" y1="316.15" x2="314.9" y2="316.15" stroke="#111" stroke-width="1"/>
<text x="309.40" y="317.90" font-size="6.3" font-family='"Liberation Sans", sans-serif' fill="#111" text-anchor="end" class="s" >0.50</text>
<line x1="311.50" y1="293.50" x2="314.9" y2="293.50" stroke="#111" stroke-width="1"/>
<text x="309.40" y="295.25" font-size="6.3" font-family='"Liberation Sans", sans-serif' fill="#111" text-anchor="end" class="s" >1.00</text>
<line x1="311.50" y1="270.85" x2="314.9" y2="270.85" stroke="#111" stroke-width="1"/>
<text x="309.40" y="272.60" font-size="6.3" font-family='"Liberation Sans", sans-serif' fill="#111" text-anchor="end" class="s" >1.50</text>
<line x1="311.50" y1="248.20" x2="314.9" y2="248.20" stroke="#111" stroke-width="1"/>
<text x="309.40" y="249.95" font-size="6.3" font-family='"Liberation Sans", sans-serif' fill="#111" text-anchor="end" class="s" >2.00</text>
<line x1="311.50" y1="225.55" x2="314.9" y2="225.55" stroke="#111" stroke-width="1"/>
<text x="309.40" y="227.30" font-size="6.3" font-family='"Liberation Sans", sans-serif' fill="#111" text-anchor="end" class="s" >2.50</text>
<line x1="311.50" y1="202.90" x2="314.9" y2="202.90" stroke="#111" stroke-width="1"/>
<text x="309.40" y="204.65" font-size="6.3" font-family='"Liberation Sans", sans-serif' fill="#111" text-anchor="end" class="s" >3.00</text>
<text x="323.00" y="351.20" font-size="7.0" font-family='"Liberation Serif", serif' fill="#111" textLength="24.80" lengthAdjust="spacingAndGlyphs" class="m" >No ATRA</text>
<text x="357.10" y="351.20" font-size="7.0" font-family='"Liberation Serif", serif' fill="#111" textLength="37.00" lengthAdjust="spacingAndGlyphs" class="m" >0.001 microM</text>
<text x="400.00" y="351.20" font-size="7.0" font-family='"Liberation Serif", serif' fill="#111" textLength="33.50" lengthAdjust="spacingAndGlyphs" class="m" >0.01 microM</text>
<text x="442.50" y="351.20" font-size="7.0" font-family='"Liberation Serif", serif' fill="#111" textLength="31.00" lengthAdjust="spacingAndGlyphs" class="m" >0.1 microM</text>
<text x="486.00" y="351.20" font-size="7.0" font-family='"Liberation Serif", serif' fill="#111" textLength="25.00" lengthAdjust="spacingAndGlyphs" class="m" >1 microM</text>
<text x="362.90" y="361.20" font-size="6.9" font-family='"Liberation Serif", serif' fill="#111" textLength="104.40" lengthAdjust="spacingAndGlyphs" class="m" >All-trans retinoic acid concentration</text>
<text x="283.60" y="346.60" font-size="6.9" font-family='"Liberation Sans", sans-serif' fill="#111" textLength="149.60" lengthAdjust="spacingAndGlyphs" transform="rotate(-90 283.60 346.60)" class="m" >Relative CD11b expression in PRAME  or shPRAME</text>
<text x="292.40" y="329.00" font-size="6.9" font-family='"Liberation Sans", sans-serif' fill="#111" textLength="115.60" lengthAdjust="spacingAndGlyphs" transform="rotate(-90 292.40 329.00)" class="m" >cells relative to control cells (96 hours)</text>
<rect x="403.8" y="204.4" width="111.4" height="25.8" fill="#fff" stroke="#333" stroke-width="1"/>
<rect x="406.6" y="208.20" width="3.5" height="3.5" fill="#d8d8d8" stroke="#333" stroke-width="0.8"/>
<text x="413.60" y="212.60" font-size="7.0" font-family='"Liberation Serif", serif' fill="#111" textLength="43.40" lengthAdjust="spacingAndGlyphs" class="m" >PRAME/Control</text>
<rect x="406.6" y="216.00" width="3.5" height="3.5" fill="#6a6a6a" stroke="#333" stroke-width="0.8"/>
<text x="413.60" y="220.40" font-size="7.0" font-family='"Liberation Serif", serif' fill="#111" textLength="97.00" lengthAdjust="spacingAndGlyphs" class="m" >shPRAME/shControl in Control cells</text>
<rect x="406.6" y="223.80" width="3.5" height="3.5" fill="#000" stroke="#333" stroke-width="0.8"/>
<text x="413.60" y="228.20" font-size="7.0" font-family='"Liberation Serif", serif' fill="#111" textLength="99.40" lengthAdjust="spacingAndGlyphs" class="m" >shPRAME/shControl in PRAME cells</text>
</svg>
</body></html>
